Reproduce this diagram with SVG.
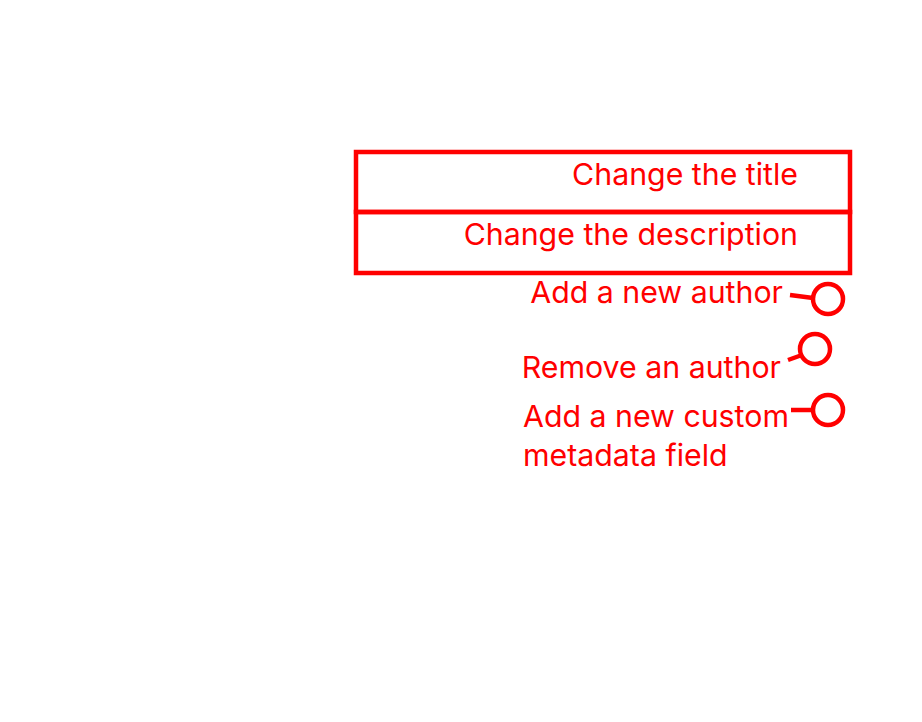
<svg xmlns="http://www.w3.org/2000/svg" width="922" height="722" viewBox="0 0 922 722">
<style>
text{font-family:Inter,"Liberation Sans",sans-serif;font-size:30.3px;fill:#ff0000}
.s{fill:none;stroke:#ff0000;stroke-width:4.5}
</style>
<rect width="922" height="722" fill="#ffffff"/>
<g id="node-title"><rect class="s" x="356" y="152" width="494" height="60"/><text x="798" y="185" text-anchor="end">Change the title</text></g>
<g id="node-description"><rect class="s" x="356" y="212" width="494" height="61"/><text x="798" y="245" text-anchor="end">Change the description</text></g>
<g id="node-add-author"><circle class="s" cx="828" cy="299" r="15"/><text x="783" y="303" text-anchor="end">Add a new author</text></g>
<g id="node-remove-author"><circle class="s" cx="815" cy="349" r="15"/><text x="781" y="378" text-anchor="end">Remove an author</text></g>
<g id="node-custom-field"><circle class="s" cx="828" cy="410" r="15"/><text x="523" y="427">Add a new custom</text><text x="523" y="466">metadata field</text></g>
<g id="connectors">
<line class="s" x1="790" y1="295" x2="813" y2="298"/>
<line class="s" x1="788" y1="360" x2="802" y2="355"/>
<line class="s" x1="791" y1="410" x2="813" y2="410"/>
</g>
</svg>
